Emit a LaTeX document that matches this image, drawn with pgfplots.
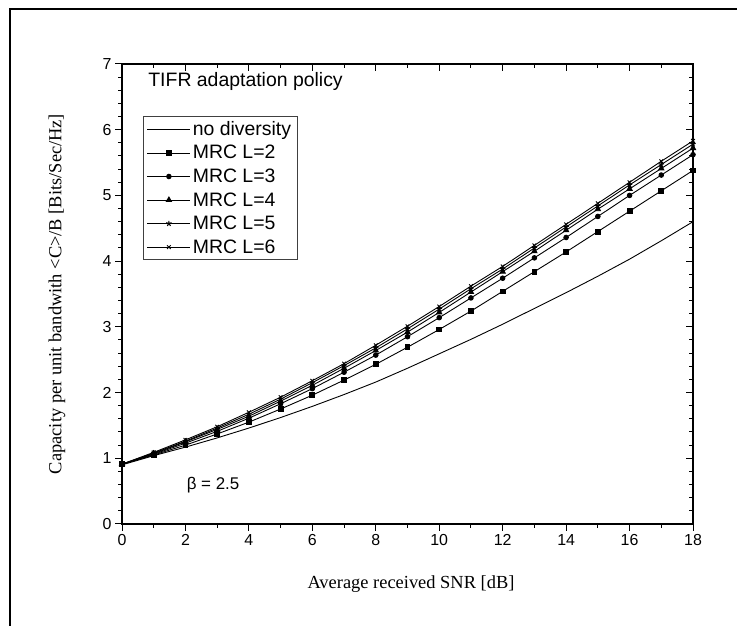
\documentclass[border=0pt]{standalone}
\usepackage{pgfplots}
\usepackage{pgfplotstable}
\pgfplotsset{compat=1.18}
\usepackage{fontspec}
\setmainfont{Liberation Sans}
\newfontfamily\timesf{Liberation Serif}

\pgfplotstableread{
x   nd    L2    L3    L4    L5    L6
0   0.90  0.91  0.91  0.91  0.91  0.91
1   1.04  1.05  1.06  1.07  1.08  1.09
2   1.17  1.20  1.23  1.25  1.26  1.28
3   1.31  1.37  1.41  1.44  1.46  1.48
4   1.46  1.55  1.61  1.64  1.67  1.70
5   1.62  1.75  1.83  1.87  1.90  1.93
6   1.79  1.96  2.06  2.11  2.15  2.18
7   1.97  2.19  2.31  2.37  2.41  2.44
8   2.16  2.43  2.57  2.64  2.68  2.72
9   2.37  2.69  2.85  2.92  2.97  3.01
10  2.59  2.96  3.14  3.22  3.27  3.31
11  2.81  3.24  3.44  3.53  3.58  3.62
12  3.04  3.54  3.74  3.84  3.88  3.92
13  3.28  3.84  4.05  4.15  4.20  4.24
14  3.52  4.14  4.36  4.47  4.52  4.56
15  3.77  4.45  4.68  4.79  4.84  4.88
16  4.03  4.76  5.00  5.10  5.16  5.20
17  4.31  5.07  5.31  5.41  5.47  5.52
18  4.60  5.38  5.62  5.72  5.78  5.83
}\datatable

\begin{document}
\begin{tikzpicture}[x=1bp,y=1bp]
\pgfplotsset{common/.style={
  scale only axis, width=571bp, height=460bp,
  at={(122bp,102bp)}, anchor=south west,
  xmin=0, xmax=18, ymin=0, ymax=7,
  xtick={0,2,...,18}, ytick={0,1,...,7},
  minor x tick num=1, minor y tick num=4,
  major tick length=7bp, minor tick length=4bp,
  axis line style={line width=1.2bp},
  every tick/.style={black, line width=1bp},
  /pgf/number format/assume math mode=true,
  tick label style={font=\fontsize{16}{18}\selectfont},
}}
\begin{axis}[common,
  tick align=outside, xtick pos=bottom, ytick pos=left,
  legend style={at={(axis description cs:0.036,0.887)}, anchor=north west,
    draw=black!75, line width=0.8bp, font=\fontsize{19.5}{23.5}\selectfont,
    inner xsep=4bp, inner ysep=3bp, row sep=4.5bp,
    /tikz/every even column/.append style={column sep=6bp}},
  legend cell align=left,
  legend image code/.code={\draw[#1, mark repeat=2, mark phase=2] plot coordinates {(0bp,0bp) (21.5bp,0bp) (43bp,0bp)};},
]
\addplot[black, line width=0.9bp, no markers] table[x=x,y=nd]{\datatable};
\addlegendentry{no diversity}
\addplot[black, line width=0.9bp, mark=square*, mark size=2.4bp] table[x=x,y=L2]{\datatable};
\addlegendentry{MRC L=2}
\addplot[black, line width=0.9bp, mark=*, mark size=2.3bp] table[x=x,y=L3]{\datatable};
\addlegendentry{MRC L=3}
\addplot[black, line width=0.9bp, mark=triangle*, mark size=3bp] table[x=x,y=L4]{\datatable};
\addlegendentry{MRC L=4}
\addplot[black, line width=0.9bp, mark=star, mark size=2.8bp, mark options={line width=1.1bp}] table[x=x,y=L5]{\datatable};
\addlegendentry{MRC L=5}
\addplot[black, line width=0.9bp, mark=x, mark size=2.6bp] table[x=x,y=L6]{\datatable};
\addlegendentry{MRC L=6}
\node[anchor=west, font=\fontsize{19.5}{23.5}\selectfont] at (axis cs:0.72,6.74) {TIFR adaptation policy};
\node[font=\fontsize{17}{20}\selectfont] at (axis cs:2.87,0.59) {β = 2.5};
\end{axis}
\begin{axis}[common,
  tick align=inside, xtick pos=top, ytick pos=right,
  xticklabels={}, yticklabels={},
]
\end{axis}
\node[rotate=90, font=\timesf\fontsize{18.5}{21}\selectfont] at (57bp,332bp) {Capacity per unit bandwith <C>/B [Bits/Sec/Hz]};
\node[font=\timesf\fontsize{18.5}{21}\selectfont] at (411bp,42bp) {Average received SNR [dB]};
\draw[line width=2bp] (10bp,-20bp) -- (10bp,617bp) -- (760bp,617bp);
\pgfresetboundingbox
\useasboundingbox (0,0) rectangle (737bp,626bp);
\end{tikzpicture}
\end{document}
